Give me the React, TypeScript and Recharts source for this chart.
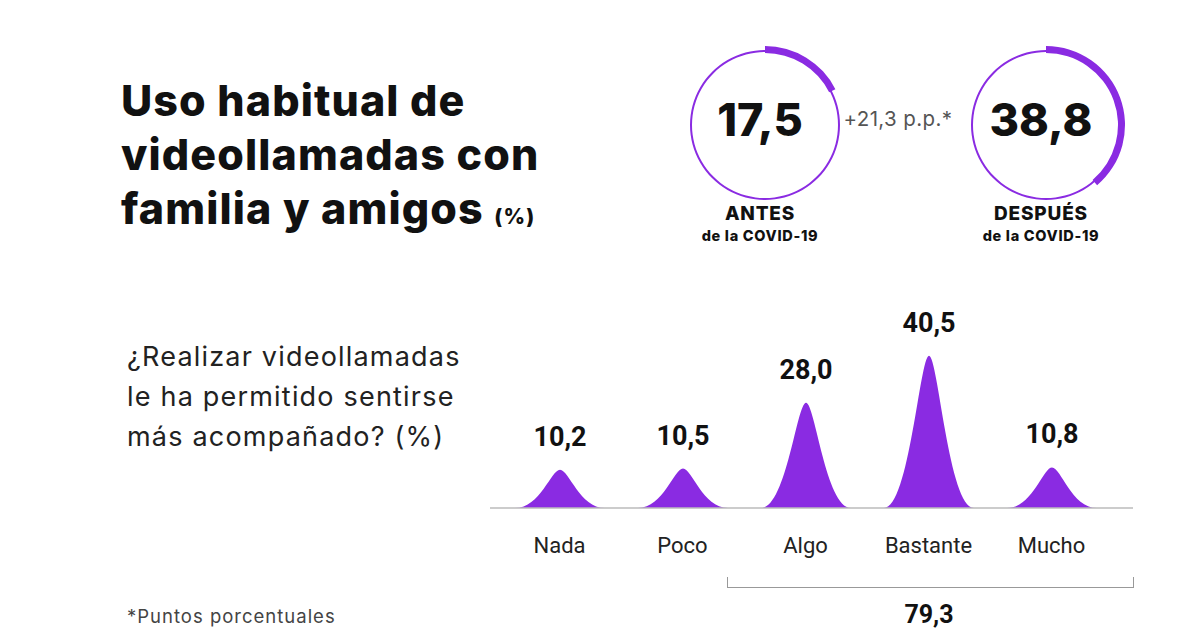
import { Bar, BarChart, Cell, LabelList, Pie, PieChart, XAxis, YAxis } from "recharts";

const categories = ["Nada", "Poco", "Algo", "Bastante", "Mucho"];
const shares = [10.2, 10.5, 28.0, 40.5, 10.8];
const beforeCovid = 17.5;
const afterCovid = 38.8;
const groupedTotal = 79.3;
const changeLabel = "+21,3 p.p.*";

const purple = "#8a2be2";
const boldFont = "Inter, 'Open Sans', sans-serif";
const narrowFont = "'Liberation Sans Narrow', Roboto, 'Noto Sans', sans-serif";

const peakData = categories.map((name, i) => ({ name, value: shares[i] }));

const fmt = (v: number) => v.toFixed(1).replace(".", ",");

function Peak(props: any) {
  const { x, y, width, height } = props;
  if (height == null || height <= 0) return null;
  const b = y + height;
  const d = `M${x},${b} C${x + width * 0.28},${b} ${x + width * 0.4},${y} ${x + width / 2},${y} C${x + width * 0.6},${y} ${x + width * 0.72},${b} ${x + width},${b} Z`;
  return <path d={d} fill={purple} />;
}

function Ring({ value, cx, label }: { value: number; cx: number; label: string }) {
  const track = [{ v: 100 }];
  const arc = [{ v: value }, { v: 100 - value }];
  return (
    <div style={{ position: "absolute", left: cx - 85, top: 35, width: 170, height: 230 }}>
      <PieChart width={170} height={170}>
        <Pie data={track} dataKey="v" cx={85} cy={85} innerRadius={73} outerRadius={75} stroke="none" fill={purple} isAnimationActive={false} />
        <Pie data={arc} dataKey="v" cx={85} cy={85} innerRadius={72} outerRadius={79} startAngle={90} endAngle={-270} stroke="none" isAnimationActive={false}>
          <Cell fill={purple} />
          <Cell fill="transparent" />
        </Pie>
      </PieChart>
      <div style={{ position: "absolute", left: 0, top: 57, width: 170, textAlign: "center", fontFamily: boldFont, fontWeight: 800, fontSize: 45, color: "#111", lineHeight: "56px" }}>
        {fmt(value)}
      </div>
      <div style={{ position: "absolute", left: -30, top: 167, width: 230, textAlign: "center", fontFamily: boldFont, fontWeight: 800, fontSize: 19, letterSpacing: 0.8, color: "#111", lineHeight: "24px" }}>
        {label}
      </div>
      <div style={{ position: "absolute", left: -30, top: 192, width: 230, textAlign: "center", fontFamily: boldFont, fontWeight: 800, fontSize: 14.5, letterSpacing: 0.7, color: "#111", lineHeight: "18px" }}>
        de la COVID-19
      </div>
    </div>
  );
}

export default function App() {
  return (
    <div style={{ position: "relative", width: 1200, height: 628, background: "#fff", overflow: "hidden" }}>
      <style>{`body{margin:0}`}</style>
      <div style={{ position: "absolute", left: 121, top: 73, fontFamily: boldFont, fontWeight: 800, fontSize: 43, lineHeight: "54px", color: "#111", letterSpacing: 1.1 }}>
        Uso habitual de
        <br />
        videollamadas con
        <br />
        familia y amigos <span style={{ fontSize: 21 }}>(%)</span>
      </div>

      <Ring value={beforeCovid} cx={760} label="ANTES" />
      <Ring value={afterCovid} cx={1041} label="DESPUÉS" />
      <div style={{ position: "absolute", left: 828, top: 106, width: 140, textAlign: "center", fontFamily: boldFont, fontSize: 20.5, letterSpacing: 0.4, color: "#555" }}>
        {changeLabel}
      </div>

      <div style={{ position: "absolute", left: 127, top: 337, fontFamily: boldFont, fontSize: 27, letterSpacing: 1.2, lineHeight: "40px", color: "#222" }}>
        ¿Realizar videollamadas
        <br />
        le ha permitido sentirse
        <br />
        más acompañado? (%)
      </div>

      <div style={{ position: "absolute", left: 490, top: 290 }}>
        <BarChart width={643} height={290} data={peakData} margin={{ top: 0, right: 0, left: 0, bottom: 0 }} barCategoryGap={0}>
          <YAxis hide domain={[0, 58]} />
          <XAxis
            dataKey="name"
            height={72}
            padding={{ left: 8, right: 20 }}
            axisLine={{ stroke: "#bbb", strokeWidth: 1.5 }}
            tickLine={false}
            tickMargin={23}
            interval={0}
            tick={{ fontSize: 22, fill: "#222", fontFamily: narrowFont }}
          />
          <Bar dataKey="value" barSize={90} shape={<Peak />} isAnimationActive={false}>
            <LabelList dataKey="value" position="top" offset={24} formatter={(v: any) => fmt(Number(v))} style={{ fontFamily: narrowFont, fontWeight: 700, fontSize: 27, fill: "#111" }} />
          </Bar>
        </BarChart>
      </div>

      <div style={{ position: "absolute", left: 727, top: 577, width: 405, height: 10, borderLeft: "1.5px solid #999", borderRight: "1.5px solid #999", borderBottom: "1.5px solid #999" }} />
      <div style={{ position: "absolute", left: 829, top: 600, width: 200, textAlign: "center", fontFamily: narrowFont, fontWeight: 700, fontSize: 25, color: "#111" }}>
        {fmt(groupedTotal)}
      </div>

      <div style={{ position: "absolute", left: 127, top: 605, fontFamily: boldFont, fontSize: 18.5, letterSpacing: 1, color: "#444" }}>*Puntos porcentuales</div>
    </div>
  );
}
